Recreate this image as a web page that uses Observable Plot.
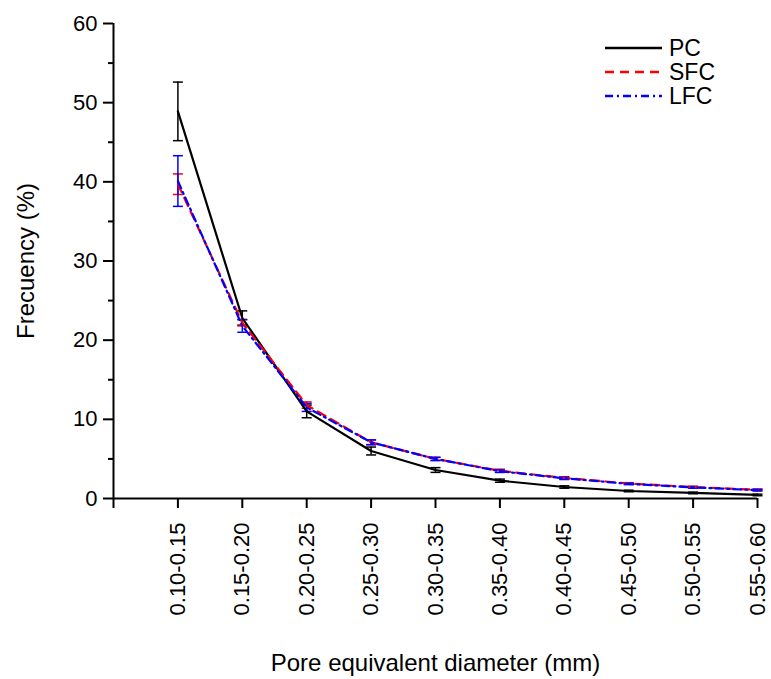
<!DOCTYPE html>
<html>
<head>
<meta charset="utf-8">
<script src="https://cdn.jsdelivr.net/npm/d3@7"></script>
<script src="https://cdn.jsdelivr.net/npm/@observablehq/plot@0.6"></script>
<style>
  html, body { margin: 0; padding: 0; background: white; }
</style>
</head>
<body>
<div id="chart"></div>
<script>
const categories = ["0.10-0.15","0.15-0.20","0.20-0.25","0.25-0.30","0.30-0.35","0.35-0.40","0.40-0.45","0.45-0.50","0.50-0.55","0.55-0.60"];
const PC      = [48.9, 22.8, 11.0, 6.0, 3.6, 2.25, 1.45, 0.95, 0.7, 0.45];
const PC_err  = [3.7, 0.9, 0.8, 0.5, 0.3, 0.2, 0.15, 0.1, 0.1, 0.1];
const SFC     = [39.7, 22.2, 11.8, 7.1, 5.0, 3.5, 2.6, 1.9, 1.45, 1.1];
const SFC_err = [1.3, 0.4, 0.4, 0.3, 0.2, 0.2, 0.15, 0.1, 0.1, 0.1];
const LFC     = [40.1, 21.8, 11.5, 7.1, 5.0, 3.45, 2.55, 1.85, 1.4, 1.05];
const LFC_err = [3.2, 0.8, 0.5, 0.3, 0.2, 0.15, 0.15, 0.1, 0.1, 0.1];
const yMajor = [0, 10, 20, 30, 40, 50, 60];
const yMinor = [5, 15, 25, 35, 45, 55];
const seriesNames = ["PC", "SFC", "LFC"];
const seriesColors = ["#000000", "#ff0000", "#0000ff"];
const seriesDash = [null, "9,6", "8,4,2,4"];

const seriesValues = [PC, SFC, LFC];
const seriesErr = [PC_err, SFC_err, LFC_err];
const rows = [];
seriesNames.forEach((s, k) => {
  categories.forEach((c, j) => {
    rows.push({series: s, i: j + 1, v: seriesValues[k][j], e: seriesErr[k][j]});
  });
});
const catRows = categories.map((c, j) => ({i: j + 1, label: c}));

const cap = {
  draw(ctx, size) {
    const r = Math.sqrt(size / Math.PI);
    ctx.moveTo(-r, 0);
    ctx.lineTo(r, 0);
  }
};

const marks = [];
seriesNames.forEach((s, k) => {
  const d = rows.filter(r => r.series === s);
  const col = seriesColors[k];
  marks.push(Plot.ruleX(d, {x: "i", y1: r => r.v - r.e, y2: r => r.v + r.e, stroke: col, strokeWidth: 1.5}));
  marks.push(Plot.dot(d, {x: "i", y: r => r.v + r.e, symbol: cap, r: 5, stroke: col, fill: "none", strokeWidth: 1.5}));
  marks.push(Plot.dot(d, {x: "i", y: r => r.v - r.e, symbol: cap, r: 5, stroke: col, fill: "none", strokeWidth: 1.5}));
});
seriesNames.forEach((s, k) => {
  const d = rows.filter(r => r.series === s);
  marks.push(Plot.line(d, {x: "i", y: "v", stroke: seriesColors[k], strokeWidth: 2.2, strokeDasharray: seriesDash[k]}));
});

const xTicks = d3.range(0, categories.length + 1);
const FONT = "'Liberation Sans', Arial, sans-serif";

const plot = Plot.plot({
  width: 771,
  height: 679,
  marginLeft: 113,
  marginRight: 14,
  marginTop: 23,
  marginBottom: 181,
  x: {domain: [0, categories.length]},
  y: {domain: [0, 60]},
  style: {fontFamily: FONT, fontSize: "19px", background: "white", color: "black"},
  marks: [
    Plot.axisY(yMajor, {tickSize: 10, strokeWidth: 2, label: null, tickFormat: () => ""}),
    Plot.axisY(yMinor, {tickSize: 5, strokeWidth: 2, label: null, tickFormat: () => ""}),
    Plot.axisX(xTicks, {tickSize: 10, strokeWidth: 2, label: null, tickFormat: () => ""}),
    Plot.ruleX([0], {strokeWidth: 2}),
    Plot.ruleY([0], {strokeWidth: 2}),
    // tick labels
    Plot.text(yMajor, {y: d => d, text: d => String(d), frameAnchor: "left", dx: -16, textAnchor: "end", lineAnchor: "middle", fontSize: "22px", fill: "black"}),
    Plot.text(catRows, {x: "i", text: "label", frameAnchor: "bottom", dy: 24, rotate: -90, textAnchor: "end", lineAnchor: "middle", fontSize: "22px", fill: "black"}),
    ...marks,
    Plot.text(["Frecuency (%)"], {frameAnchor: "left", dx: -87, rotate: -90, textAnchor: "middle", lineAnchor: "middle", fontSize: "24px", fill: "black"}),
    Plot.text(["Pore equivalent diameter (mm)"], {frameAnchor: "bottom", dy: 165, textAnchor: "middle", lineAnchor: "middle", fontSize: "24px", fill: "black"})
  ]
});

const svg = d3.select(plot);
// Legend (top-right, inside plot area)
const lg = svg.append("g")
  .attr("font-family", FONT)
  .attr("font-size", 23)
  .attr("text-anchor", "start");
seriesNames.forEach((s, k) => {
  const y = 48 + k * 24;
  lg.append("line").attr("x1", 605).attr("x2", 662).attr("y1", y).attr("y2", y)
    .attr("stroke", seriesColors[k]).attr("stroke-width", 2.5)
    .attr("stroke-dasharray", seriesDash[k]);
  lg.append("text").attr("x", 669).attr("y", y).attr("dy", "0.35em").attr("fill", "black").text(s);
});

document.getElementById("chart").appendChild(plot);
</script>
</body>
</html>
